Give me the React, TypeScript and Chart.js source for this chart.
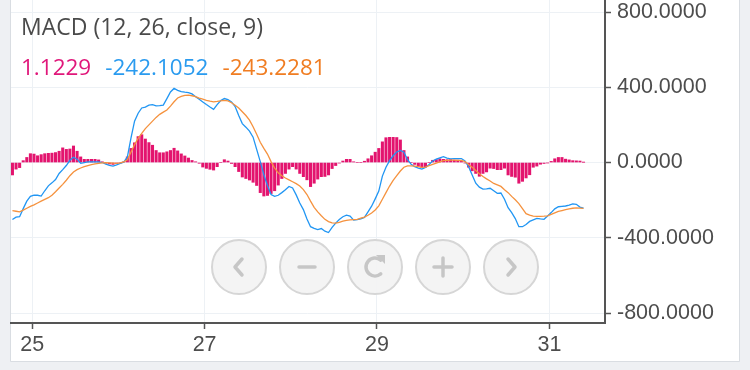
import React, { useEffect, useRef } from "react";
import { Chart, registerables } from "chart.js";

Chart.register(...registerables);

// MACD line (blue), one value per hourly bar
const macd = [
  -303, -290, -288, -245, -205, -180, -173, -174, -178, -150,
  -124, -108, -90, -58, -38, -16, 12, 28, 18, -4,
  0, 3, 4, 4, 4, 0, -9, -15, -19, -12,
  -4, 2, 30, 130, 220, 262, 290, 295, 305, 308,
  301, 302, 305, 340, 375, 394, 384, 377, 374, 372,
  365, 350, 336, 322, 308, 295, 283, 308, 330, 340,
  334, 322, 298, 250, 207, 188, 167, 135, 70, 5,
  -65, -122, -170, -180, -174, -160, -145, -127, -135, -172,
  -215, -250, -300, -341, -350, -356, -351, -365, -372, -345,
  -322, -303, -288, -280, -285, -306, -303, -300, -292, -262,
  -232, -193, -152, -72, -25, 10, 36, 56, 64, 55,
  15, -9, -22, -30, -35, -26, -10, 8, 18, 25,
  31, 24, 19, 21, 21, 21, 8, -22, -66, -110,
  -131, -141, -140, -137, -150, -164, -162, -195, -240, -266,
  -298, -341, -341, -329, -313, -305, -297, -300, -302, -284,
  -266, -246, -235, -233, -231, -226, -220, -222, -237, -242.1052,
];

// Signal line (orange)
const signal = [
  -256, -259, -262, -253, -243, -233, -225, -215, -205, -196,
  -187, -174, -155, -135, -116, -94, -70, -50, -38, -29,
  -22, -16, -11, -7, -4, -2, -1, -2, -3, -4,
  -2, 4, 15, 55, 95, 128, 155, 180, 200, 220,
  240, 256, 268, 279, 300, 323, 343, 352, 357, 358,
  355, 350, 343, 337, 331, 326, 323, 325, 328, 330,
  328, 318, 305, 290, 270, 250, 225, 190, 150, 108,
  75, 45, 5, -30, -55, -70, -82, -92, -102, -112,
  -125, -144, -170, -205, -238, -262, -283, -302, -314, -321,
  -322, -318, -312, -308, -305, -303, -302, -296, -290, -280,
  -268, -252, -230, -195, -160, -125, -95, -70, -45, -25,
  -18, -18, -19, -22, -26, -24, -17, -10, -3, 4,
  10, 12, 13, 13, 12, 11, 5, -10, -25, -42,
  -60, -74, -87, -98, -111, -119, -127, -145, -160, -180,
  -198, -218, -245, -272, -280, -285, -286, -286, -285, -283,
  -276, -268, -260, -255, -250, -246, -243, -241, -242, -243.2281,
];

// Histogram (pink)
const hist = [
  -66, -35, -27, 10, 27, 47, 45, 36, 42, 47,
  49, 50, 53, 60, 78, 70, 72, 88, 60, 30,
  17, 17, 17, 17, 14, 4, -4, -8, -10, -6,
  -2, 4, 30, 75, 105, 138, 148, 125, 106, 92,
  64, 52, 52, 57, 64, 76, 62, 46, 35, 24,
  11, 4, -4, -24, -31, -36, -40, -22, 0, 15,
  8, -5, -22, -48, -77, -85, -93, -105, -122, -160,
  -178, -175, -165, -150, -120, -85, -58, -35, -22, -35,
  -58, -75, -92, -128, -110, -88, -75, -74, -66, -32,
  -16, -3, 8, 17, 17, 4, 0, 0, 7, 20,
  36, 55, 75, 110, 132, 134, 134, 133, 120, 64,
  30, 0, -10, -20, -26, -24, 0, 12, 16, 20,
  17, 15, 16, 13, 13, 6, -2, -25, -44, -58,
  -73, -58, -50, -30, -32, -38, -38, -30, -66, -74,
  -78, -110, -100, -82, -65, -25, -19, -9, -5, -2,
  6, 20, 27, 27, 18, 14, 10, 9, 8, 1.1229,
];

const firstHour = -5.5; // hour of first bar, counted from day 25 00:00
const dayTicks = [25, 27, 29, 31];
const yTicks = [800, 400, 0, -400, -800];
const titleText = "MACD (12, 26, close, 9)";
const lastValues = ["1.1229", "-242.1052", "-243.2281"];

const PINK = "#e3146e";
const BLUE = "#2196f3";
const ORANGE = "#f5923e";
const TXT_PINK = "#e0177a";
const TXT_BLUE = "#2a9bef";
const TXT_ORANGE = "#f07d22";
const GRID = "#edf1f5";
const AXIS = "#555555";
const TICK_TXT = "#4d4d4d";

export default function App() {
  const ref = useRef<HTMLCanvasElement>(null);

  useEffect(() => {
    if (!ref.current) return;
    const hours = macd.map((_, i) => firstHour + i);

    const bgPlugin = {
      id: "bg",
      beforeDraw(chart: any) {
        const ctx = chart.ctx;
        ctx.save();
        ctx.fillStyle = "#eef0f3";
        ctx.fillRect(0, 0, chart.width, chart.height);
        ctx.fillStyle = "#ffffff";
        ctx.fillRect(11, 0, 728, 361);
        ctx.strokeStyle = "#d9dde2";
        ctx.lineWidth = 1;
        ctx.beginPath();
        ctx.moveTo(10.5, 0);
        ctx.lineTo(10.5, 361.5);
        ctx.lineTo(739.5, 361.5);
        ctx.lineTo(739.5, 0);
        ctx.stroke();
        ctx.restore();
      },
    };

    const overlayPlugin = {
      id: "overlay",
      afterDraw(chart: any) {
        const ctx = chart.ctx;
        ctx.save();
        ctx.textBaseline = "alphabetic";
        ctx.textAlign = "left";
        ctx.font = '23px "Open Sans", sans-serif';
        ctx.fillStyle = "#4a4a4a";
        ctx.fillText(titleText, 21, 35);
        ctx.font = '22.5px "Open Sans", sans-serif';
        const colors = [TXT_PINK, TXT_BLUE, TXT_ORANGE];
        let x = 21;
        lastValues.forEach((t, i) => {
          ctx.fillStyle = colors[i];
          ctx.fillText(t, x, 75);
          x += ctx.measureText(t).width + 14;
        });

        const cy = 267;
        const centers = [239, 307, 375, 443, 511];
        centers.forEach((cx) => {
          ctx.beginPath();
          ctx.arc(cx, cy, 27, 0, Math.PI * 2);
          ctx.fillStyle = "rgba(243,243,243,0.92)";
          ctx.fill();
          ctx.lineWidth = 2;
          ctx.strokeStyle = "#d6d6d6";
          ctx.stroke();
        });
        ctx.strokeStyle = "#c6c6c6";
        ctx.fillStyle = "#c6c6c6";
        ctx.lineWidth = 3.5;
        ctx.lineCap = "round";
        ctx.lineJoin = "round";
        let cx = centers[0];
        ctx.beginPath();
        ctx.moveTo(cx + 3, cy - 8);
        ctx.lineTo(cx - 4, cy);
        ctx.lineTo(cx + 3, cy + 8);
        ctx.stroke();
        cx = centers[1];
        ctx.beginPath();
        ctx.moveTo(cx - 8, cy);
        ctx.lineTo(cx + 8, cy);
        ctx.stroke();
        cx = centers[2];
        ctx.beginPath();
        ctx.arc(cx, cy, 9, -0.28 * Math.PI, 0.28 * Math.PI, true);
        ctx.stroke();
        ctx.beginPath();
        ctx.moveTo(cx + 1, cy - 12);
        ctx.lineTo(cx + 10, cy - 12);
        ctx.lineTo(cx + 10, cy - 3);
        ctx.closePath();
        ctx.fill();
        cx = centers[3];
        ctx.beginPath();
        ctx.moveTo(cx - 9, cy);
        ctx.lineTo(cx + 9, cy);
        ctx.moveTo(cx, cy - 9);
        ctx.lineTo(cx, cy + 9);
        ctx.stroke();
        cx = centers[4];
        ctx.beginPath();
        ctx.moveTo(cx - 3, cy - 8);
        ctx.lineTo(cx + 4, cy);
        ctx.lineTo(cx - 3, cy + 8);
        ctx.stroke();
        ctx.restore();
      },
    };

    const tickFont = { family: '"Liberation Sans", Arial, sans-serif', size: 21.5 };

    const chart = new Chart(ref.current, {
      type: "bar",
      data: {
        datasets: [
          {
            type: "line",
            label: "Signal",
            data: signal.map((v, i) => ({ x: hours[i], y: v })),
            borderColor: ORANGE,
            borderWidth: 1.3,
            pointRadius: 0,
            tension: 0,
            order: 1,
          } as any,
          {
            type: "line",
            label: "MACD",
            data: macd.map((v, i) => ({ x: hours[i], y: v })),
            borderColor: BLUE,
            borderWidth: 1.3,
            pointRadius: 0,
            tension: 0,
            order: 2,
          } as any,
          {
            type: "bar",
            label: "Histogram",
            data: hist.map((v, i) => ({ x: hours[i], y: v })),
            backgroundColor: PINK,
            barThickness: 2.4,
            order: 3,
          } as any,
        ],
      },
      options: {
        animation: false,
        responsive: false,
        maintainAspectRatio: false,
        layout: { padding: { left: 11, top: 0, right: 0, bottom: 0 } },
        plugins: {
          legend: { display: false },
          tooltip: { enabled: false },
          title: { display: false },
        },
        scales: {
          x: {
            type: "linear",
            min: -5.9,
            max: 159.48,
            offset: false,
            afterBuildTicks: (s: any) => {
              s.ticks = dayTicks.map((d) => ({ value: (d - 25) * 24 }));
            },
            afterFit: (s: any) => {
              s.height = 47;
              s.paddingLeft = 0;
              s.paddingRight = 0;
              s.paddingTop = 0;
              s.paddingBottom = 0;
            },
            ticks: {
              callback: (v: any) => String(25 + Number(v) / 24),
              color: TICK_TXT,
              font: tickFont,
              padding: 3,
              maxRotation: 0,
              autoSkip: false,
            },
            grid: {
              color: GRID,
              tickColor: AXIS,
              tickLength: 6,
              tickWidth: 1.5,
              offset: false,
            },
            border: { color: AXIS, width: 2 },
          },
          y: {
            type: "linear",
            position: "right",
            min: -853,
            max: 864,
            afterBuildTicks: (s: any) => {
              s.ticks = yTicks.map((v) => ({ value: v }));
            },
            afterFit: (s: any) => {
              s.width = 145;
              s.paddingTop = 0;
              s.paddingBottom = 0;
              s.paddingLeft = 0;
              s.paddingRight = 0;
            },
            ticks: {
              callback: (v: any) => Number(v).toFixed(4),
              color: TICK_TXT,
              font: tickFont,
              padding: 6,
              autoSkip: false,
            },
            grid: {
              color: GRID,
              tickColor: AXIS,
              tickLength: 6,
              tickWidth: 1.5,
            },
            border: { color: AXIS, width: 2 },
          },
        },
      } as any,
      plugins: [bgPlugin, overlayPlugin],
    });

    return () => chart.destroy();
  }, []);

  return (
    <div style={{ position: "fixed", left: 0, top: 0, width: 750, height: 370 }}>
      <canvas
        ref={ref}
        width={750}
        height={370}
        style={{ display: "block", width: 750, height: 370 }}
      />
    </div>
  );
}
